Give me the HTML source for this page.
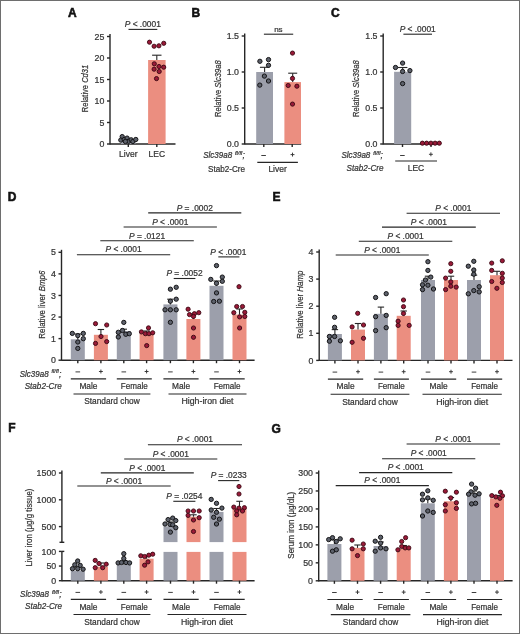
<!DOCTYPE html>
<html><head><meta charset="utf-8"><style>
html,body{margin:0;padding:0;background:#fff;}
svg{display:block;will-change:transform;font-family:"Liberation Sans", sans-serif;}
text{stroke:#333;stroke-width:0.22px;paint-order:stroke;}
</style></head><body>
<svg width="520" height="634" viewBox="0 0 520 634">
<rect width="520" height="634" fill="#fff"/>
<rect x="0.5" y="0.5" width="519" height="633" fill="none" stroke="#6e6e6e" stroke-width="1"/>
<text x="68.00" y="16.70" font-size="12" font-weight="bold" fill="#111" style="stroke:#111;stroke-width:0.55px">A</text>
<text x="191.40" y="16.70" font-size="12" font-weight="bold" fill="#111" style="stroke:#111;stroke-width:0.55px">B</text>
<text x="330.90" y="16.70" font-size="12" font-weight="bold" fill="#111" style="stroke:#111;stroke-width:0.55px">C</text>
<text x="7.70" y="201.20" font-size="12" font-weight="bold" fill="#111" style="stroke:#111;stroke-width:0.55px">D</text>
<text x="272.60" y="200.90" font-size="12" font-weight="bold" fill="#111" style="stroke:#111;stroke-width:0.55px">E</text>
<text x="8.30" y="432.10" font-size="12" font-weight="bold" fill="#111" style="stroke:#111;stroke-width:0.55px">F</text>
<text x="271.50" y="432.50" font-size="12" font-weight="bold" fill="#111" style="stroke:#111;stroke-width:0.55px">G</text>
<line x1="110.00" y1="34.00" x2="110.00" y2="144.60" stroke="#262626" stroke-width="1.4"/>
<line x1="107.00" y1="144.00" x2="110.00" y2="144.00" stroke="#262626" stroke-width="1.4"/>
<text x="104.30" y="147.10" font-size="8.8" text-anchor="end" fill="#333" style="">0</text>
<line x1="107.00" y1="122.50" x2="110.00" y2="122.50" stroke="#262626" stroke-width="1.4"/>
<text x="104.30" y="125.60" font-size="8.8" text-anchor="end" fill="#333" style="">5</text>
<line x1="107.00" y1="101.00" x2="110.00" y2="101.00" stroke="#262626" stroke-width="1.4"/>
<text x="104.30" y="104.10" font-size="8.8" text-anchor="end" fill="#333" style="">10</text>
<line x1="107.00" y1="79.50" x2="110.00" y2="79.50" stroke="#262626" stroke-width="1.4"/>
<text x="104.30" y="82.60" font-size="8.8" text-anchor="end" fill="#333" style="">15</text>
<line x1="107.00" y1="58.00" x2="110.00" y2="58.00" stroke="#262626" stroke-width="1.4"/>
<text x="104.30" y="61.10" font-size="8.8" text-anchor="end" fill="#333" style="">20</text>
<line x1="107.00" y1="36.50" x2="110.00" y2="36.50" stroke="#262626" stroke-width="1.4"/>
<text x="104.30" y="39.60" font-size="8.8" text-anchor="end" fill="#333" style="">25</text>
<line x1="110.00" y1="144.00" x2="175.50" y2="144.00" stroke="#262626" stroke-width="1.4"/>
<rect x="121.00" y="139.70" width="14.50" height="4.30" fill="#9c9fab"/>
<rect x="148.10" y="60.00" width="17.50" height="84.00" fill="#eb8e80"/>
<line x1="156.80" y1="60.00" x2="156.80" y2="55.20" stroke="#262626" stroke-width="1.1"/>
<line x1="152.10" y1="55.20" x2="161.50" y2="55.20" stroke="#262626" stroke-width="1.1"/>
<line x1="128.30" y1="144.00" x2="128.30" y2="147.00" stroke="#262626" stroke-width="1.4"/>
<line x1="156.80" y1="144.00" x2="156.80" y2="147.00" stroke="#262626" stroke-width="1.4"/>
<circle cx="122.20" cy="136.60" r="2.15" fill="#5d616b" stroke="#141416" stroke-width="1.0"/>
<circle cx="120.80" cy="140.10" r="2.15" fill="#5d616b" stroke="#141416" stroke-width="1.0"/>
<circle cx="124.20" cy="139.50" r="2.15" fill="#5d616b" stroke="#141416" stroke-width="1.0"/>
<circle cx="127.10" cy="138.10" r="2.15" fill="#5d616b" stroke="#141416" stroke-width="1.0"/>
<circle cx="128.60" cy="141.30" r="2.15" fill="#5d616b" stroke="#141416" stroke-width="1.0"/>
<circle cx="131.20" cy="139.80" r="2.15" fill="#5d616b" stroke="#141416" stroke-width="1.0"/>
<circle cx="132.90" cy="141.50" r="2.15" fill="#5d616b" stroke="#141416" stroke-width="1.0"/>
<circle cx="135.80" cy="139.50" r="2.15" fill="#5d616b" stroke="#141416" stroke-width="1.0"/>
<circle cx="125.40" cy="141.50" r="2.15" fill="#5d616b" stroke="#141416" stroke-width="1.0"/>
<circle cx="149.50" cy="42.20" r="2.1" fill="#9a1a38" stroke="#3a0712" stroke-width="0.9"/>
<circle cx="154.10" cy="46.25" r="2.1" fill="#9a1a38" stroke="#3a0712" stroke-width="0.9"/>
<circle cx="158.90" cy="45.80" r="2.1" fill="#9a1a38" stroke="#3a0712" stroke-width="0.9"/>
<circle cx="163.75" cy="43.30" r="2.1" fill="#9a1a38" stroke="#3a0712" stroke-width="0.9"/>
<circle cx="154.30" cy="63.80" r="2.1" fill="#9a1a38" stroke="#3a0712" stroke-width="0.9"/>
<circle cx="159.00" cy="66.50" r="2.1" fill="#9a1a38" stroke="#3a0712" stroke-width="0.9"/>
<circle cx="163.70" cy="67.20" r="2.1" fill="#9a1a38" stroke="#3a0712" stroke-width="0.9"/>
<circle cx="154.10" cy="69.20" r="2.1" fill="#9a1a38" stroke="#3a0712" stroke-width="0.9"/>
<circle cx="159.20" cy="71.50" r="2.1" fill="#9a1a38" stroke="#3a0712" stroke-width="0.9"/>
<circle cx="156.50" cy="78.60" r="2.1" fill="#9a1a38" stroke="#3a0712" stroke-width="0.9"/>
<text x="128.30" y="157.40" font-size="8.5" text-anchor="middle" fill="#333" style="">Liver</text>
<text x="156.80" y="157.40" font-size="8.5" text-anchor="middle" fill="#333" style="">LEC</text>
<line x1="128.50" y1="29.40" x2="157.30" y2="29.40" stroke="#262626" stroke-width="1.1"/>
<text x="142.80" y="27.10" font-size="8.4" text-anchor="middle" fill="#333"><tspan style="font-style:italic">P</tspan> &lt; .0001</text>
<text x="0" y="0" font-size="9.3" text-anchor="middle" fill="#333" transform="translate(85.40,88.50) rotate(-90)" dominant-baseline="central" textLength="47.5" lengthAdjust="spacingAndGlyphs"><tspan style="font-style:normal">Relative </tspan><tspan style="font-style:italic">Cd31</tspan></text>
<line x1="244.70" y1="33.50" x2="244.70" y2="144.60" stroke="#262626" stroke-width="1.4"/>
<line x1="241.70" y1="144.00" x2="244.70" y2="144.00" stroke="#262626" stroke-width="1.4"/>
<text x="239.00" y="147.10" font-size="8.8" text-anchor="end" fill="#333" style="">0.0</text>
<line x1="241.70" y1="108.00" x2="244.70" y2="108.00" stroke="#262626" stroke-width="1.4"/>
<text x="239.00" y="111.10" font-size="8.8" text-anchor="end" fill="#333" style="">0.5</text>
<line x1="241.70" y1="72.00" x2="244.70" y2="72.00" stroke="#262626" stroke-width="1.4"/>
<text x="239.00" y="75.10" font-size="8.8" text-anchor="end" fill="#333" style="">1.0</text>
<line x1="241.70" y1="36.00" x2="244.70" y2="36.00" stroke="#262626" stroke-width="1.4"/>
<text x="239.00" y="39.10" font-size="8.8" text-anchor="end" fill="#333" style="">1.5</text>
<line x1="244.70" y1="144.00" x2="301.20" y2="144.00" stroke="#262626" stroke-width="1.4"/>
<rect x="256.20" y="72.00" width="16.80" height="72.00" fill="#9c9fab"/>
<rect x="284.40" y="82.10" width="16.60" height="61.90" fill="#eb8e80"/>
<line x1="264.60" y1="72.00" x2="264.60" y2="67.30" stroke="#262626" stroke-width="1.1"/>
<line x1="259.90" y1="67.30" x2="269.30" y2="67.30" stroke="#262626" stroke-width="1.1"/>
<line x1="292.70" y1="82.10" x2="292.70" y2="73.20" stroke="#262626" stroke-width="1.1"/>
<line x1="288.20" y1="73.20" x2="297.20" y2="73.20" stroke="#262626" stroke-width="1.1"/>
<line x1="263.80" y1="144.00" x2="263.80" y2="147.00" stroke="#262626" stroke-width="1.4"/>
<line x1="292.20" y1="144.00" x2="292.20" y2="147.00" stroke="#262626" stroke-width="1.4"/>
<circle cx="259.90" cy="61.30" r="2.15" fill="#5d616b" stroke="#141416" stroke-width="1.0"/>
<circle cx="268.50" cy="59.60" r="2.15" fill="#5d616b" stroke="#141416" stroke-width="1.0"/>
<circle cx="268.50" cy="65.30" r="2.15" fill="#5d616b" stroke="#141416" stroke-width="1.0"/>
<circle cx="264.40" cy="76.10" r="2.15" fill="#5d616b" stroke="#141416" stroke-width="1.0"/>
<circle cx="268.50" cy="81.00" r="2.15" fill="#5d616b" stroke="#141416" stroke-width="1.0"/>
<circle cx="259.80" cy="85.10" r="2.15" fill="#5d616b" stroke="#141416" stroke-width="1.0"/>
<circle cx="292.50" cy="53.10" r="2.1" fill="#9a1a38" stroke="#3a0712" stroke-width="0.9"/>
<circle cx="292.50" cy="78.40" r="2.1" fill="#9a1a38" stroke="#3a0712" stroke-width="0.9"/>
<circle cx="288.20" cy="85.50" r="2.1" fill="#9a1a38" stroke="#3a0712" stroke-width="0.9"/>
<circle cx="296.90" cy="86.20" r="2.1" fill="#9a1a38" stroke="#3a0712" stroke-width="0.9"/>
<circle cx="292.50" cy="104.10" r="2.1" fill="#9a1a38" stroke="#3a0712" stroke-width="0.9"/>
<line x1="263.90" y1="34.20" x2="293.20" y2="34.20" stroke="#262626" stroke-width="1.1"/>
<text x="278.40" y="31.60" font-size="8" text-anchor="middle" fill="#333" style="">ns</text>
<text x="0" y="0" font-size="9.3" text-anchor="middle" fill="#333" transform="translate(217.60,88.70) rotate(-90)" dominant-baseline="central" textLength="56.7" lengthAdjust="spacingAndGlyphs"><tspan style="font-style:normal">Relative </tspan><tspan style="font-style:italic">Slc39a8</tspan></text>
<text x="203.20" y="158.10" font-size="8.7" text-anchor="start" fill="#333" style="font-style:italic;" textLength="28.9" lengthAdjust="spacingAndGlyphs">Slc39a8</text>
<text x="235.00" y="154.70" font-size="5.6" text-anchor="start" fill="#333" style="font-style:italic;" textLength="7.2" lengthAdjust="spacingAndGlyphs">fl/fl</text>
<text x="242.40" y="158.10" font-size="8.7" text-anchor="start" fill="#333" style="font-style:italic;">;</text>
<text x="245.00" y="172.40" font-size="8.7" text-anchor="end" fill="#333" style="" textLength="37" lengthAdjust="spacingAndGlyphs">Stab2-Cre</text>
<line x1="261.30" y1="155.50" x2="265.90" y2="155.50" stroke="#333" stroke-width="0.95"/>
<line x1="290.55" y1="154.60" x2="294.45" y2="154.60" stroke="#333" stroke-width="0.95"/>
<line x1="292.50" y1="152.65" x2="292.50" y2="156.55" stroke="#333" stroke-width="0.95"/>
<line x1="257.30" y1="162.40" x2="297.90" y2="162.40" stroke="#262626" stroke-width="1.1"/>
<text x="277.60" y="172.30" font-size="8.5" text-anchor="middle" fill="#333" style="">Liver</text>
<line x1="383.20" y1="33.50" x2="383.20" y2="144.60" stroke="#262626" stroke-width="1.4"/>
<line x1="380.20" y1="144.00" x2="383.20" y2="144.00" stroke="#262626" stroke-width="1.4"/>
<text x="377.50" y="147.10" font-size="8.8" text-anchor="end" fill="#333" style="">0.0</text>
<line x1="380.20" y1="108.00" x2="383.20" y2="108.00" stroke="#262626" stroke-width="1.4"/>
<text x="377.50" y="111.10" font-size="8.8" text-anchor="end" fill="#333" style="">0.5</text>
<line x1="380.20" y1="72.00" x2="383.20" y2="72.00" stroke="#262626" stroke-width="1.4"/>
<text x="377.50" y="75.10" font-size="8.8" text-anchor="end" fill="#333" style="">1.0</text>
<line x1="380.20" y1="36.00" x2="383.20" y2="36.00" stroke="#262626" stroke-width="1.4"/>
<text x="377.50" y="39.10" font-size="8.8" text-anchor="end" fill="#333" style="">1.5</text>
<line x1="383.20" y1="144.00" x2="440.40" y2="144.00" stroke="#262626" stroke-width="1.4"/>
<rect x="394.10" y="71.80" width="17.10" height="72.20" fill="#9c9fab"/>
<line x1="402.70" y1="71.80" x2="402.70" y2="67.50" stroke="#262626" stroke-width="1.1"/>
<line x1="398.00" y1="67.50" x2="407.40" y2="67.50" stroke="#262626" stroke-width="1.1"/>
<line x1="402.50" y1="144.00" x2="402.50" y2="147.00" stroke="#262626" stroke-width="1.4"/>
<line x1="431.00" y1="144.00" x2="431.00" y2="147.00" stroke="#262626" stroke-width="1.4"/>
<circle cx="395.50" cy="67.50" r="2.15" fill="#5d616b" stroke="#141416" stroke-width="1.0"/>
<circle cx="402.60" cy="63.10" r="2.15" fill="#5d616b" stroke="#141416" stroke-width="1.0"/>
<circle cx="402.60" cy="71.50" r="2.15" fill="#5d616b" stroke="#141416" stroke-width="1.0"/>
<circle cx="409.90" cy="70.60" r="2.15" fill="#5d616b" stroke="#141416" stroke-width="1.0"/>
<circle cx="402.60" cy="83.60" r="2.15" fill="#5d616b" stroke="#141416" stroke-width="1.0"/>
<circle cx="422.40" cy="143.20" r="2.1" fill="#9a1a38" stroke="#3a0712" stroke-width="0.9"/>
<circle cx="426.60" cy="143.20" r="2.1" fill="#9a1a38" stroke="#3a0712" stroke-width="0.9"/>
<circle cx="430.90" cy="143.20" r="2.1" fill="#9a1a38" stroke="#3a0712" stroke-width="0.9"/>
<circle cx="435.10" cy="143.20" r="2.1" fill="#9a1a38" stroke="#3a0712" stroke-width="0.9"/>
<circle cx="439.30" cy="143.20" r="2.1" fill="#9a1a38" stroke="#3a0712" stroke-width="0.9"/>
<line x1="403.40" y1="34.20" x2="432.00" y2="34.20" stroke="#262626" stroke-width="1.1"/>
<text x="417.70" y="31.90" font-size="8.4" text-anchor="middle" fill="#333"><tspan style="font-style:italic">P</tspan> &lt; .0001</text>
<text x="0" y="0" font-size="9.3" text-anchor="middle" fill="#333" transform="translate(355.80,88.70) rotate(-90)" dominant-baseline="central" textLength="56.7" lengthAdjust="spacingAndGlyphs"><tspan style="font-style:normal">Relative </tspan><tspan style="font-style:italic">Slc39a8</tspan></text>
<text x="341.40" y="158.10" font-size="8.7" text-anchor="start" fill="#333" style="font-style:italic;" textLength="28.9" lengthAdjust="spacingAndGlyphs">Slc39a8</text>
<text x="373.20" y="154.70" font-size="5.6" text-anchor="start" fill="#333" style="font-style:italic;" textLength="7.2" lengthAdjust="spacingAndGlyphs">fl/fl</text>
<text x="380.60" y="158.10" font-size="8.7" text-anchor="start" fill="#333" style="font-style:italic;">;</text>
<text x="383.60" y="170.80" font-size="8.7" text-anchor="end" fill="#333" style="font-style:italic;" textLength="37" lengthAdjust="spacingAndGlyphs">Stab2-Cre</text>
<line x1="400.10" y1="155.50" x2="404.70" y2="155.50" stroke="#333" stroke-width="0.95"/>
<line x1="428.95" y1="154.30" x2="432.85" y2="154.30" stroke="#333" stroke-width="0.95"/>
<line x1="430.90" y1="152.35" x2="430.90" y2="156.25" stroke="#333" stroke-width="0.95"/>
<line x1="395.20" y1="161.00" x2="437.00" y2="161.00" stroke="#262626" stroke-width="1.1"/>
<text x="416.00" y="170.80" font-size="8.5" text-anchor="middle" fill="#333" style="">LEC</text>
<line x1="61.50" y1="249.80" x2="61.50" y2="360.80" stroke="#262626" stroke-width="1.4"/>
<line x1="58.50" y1="360.20" x2="61.50" y2="360.20" stroke="#262626" stroke-width="1.4"/>
<text x="55.80" y="363.30" font-size="8.8" text-anchor="end" fill="#333" style="">0</text>
<line x1="58.50" y1="338.62" x2="61.50" y2="338.62" stroke="#262626" stroke-width="1.4"/>
<text x="55.80" y="341.72" font-size="8.8" text-anchor="end" fill="#333" style="">1</text>
<line x1="58.50" y1="317.04" x2="61.50" y2="317.04" stroke="#262626" stroke-width="1.4"/>
<text x="55.80" y="320.14" font-size="8.8" text-anchor="end" fill="#333" style="">2</text>
<line x1="58.50" y1="295.46" x2="61.50" y2="295.46" stroke="#262626" stroke-width="1.4"/>
<text x="55.80" y="298.56" font-size="8.8" text-anchor="end" fill="#333" style="">3</text>
<line x1="58.50" y1="273.88" x2="61.50" y2="273.88" stroke="#262626" stroke-width="1.4"/>
<text x="55.80" y="276.98" font-size="8.8" text-anchor="end" fill="#333" style="">4</text>
<line x1="58.50" y1="252.30" x2="61.50" y2="252.30" stroke="#262626" stroke-width="1.4"/>
<text x="55.80" y="255.40" font-size="8.8" text-anchor="end" fill="#333" style="">5</text>
<line x1="61.50" y1="360.20" x2="254.60" y2="360.20" stroke="#262626" stroke-width="1.4"/>
<rect x="70.80" y="339.30" width="14.00" height="20.90" fill="#9c9fab"/>
<rect x="93.90" y="334.80" width="14.00" height="25.40" fill="#eb8e80"/>
<rect x="116.80" y="331.00" width="14.00" height="29.20" fill="#9c9fab"/>
<rect x="139.60" y="334.00" width="14.00" height="26.20" fill="#eb8e80"/>
<rect x="163.40" y="304.40" width="14.00" height="55.80" fill="#9c9fab"/>
<rect x="186.40" y="319.00" width="14.00" height="41.20" fill="#eb8e80"/>
<rect x="209.50" y="285.80" width="14.00" height="74.40" fill="#9c9fab"/>
<rect x="232.50" y="314.60" width="14.00" height="45.60" fill="#eb8e80"/>
<line x1="77.80" y1="360.20" x2="77.80" y2="363.20" stroke="#262626" stroke-width="1.4"/>
<line x1="100.90" y1="360.20" x2="100.90" y2="363.20" stroke="#262626" stroke-width="1.4"/>
<line x1="123.80" y1="360.20" x2="123.80" y2="363.20" stroke="#262626" stroke-width="1.4"/>
<line x1="146.60" y1="360.20" x2="146.60" y2="363.20" stroke="#262626" stroke-width="1.4"/>
<line x1="170.40" y1="360.20" x2="170.40" y2="363.20" stroke="#262626" stroke-width="1.4"/>
<line x1="193.40" y1="360.20" x2="193.40" y2="363.20" stroke="#262626" stroke-width="1.4"/>
<line x1="216.50" y1="360.20" x2="216.50" y2="363.20" stroke="#262626" stroke-width="1.4"/>
<line x1="239.50" y1="360.20" x2="239.50" y2="363.20" stroke="#262626" stroke-width="1.4"/>
<line x1="77.80" y1="339.30" x2="77.80" y2="334.00" stroke="#262626" stroke-width="1.1"/>
<line x1="74.60" y1="334.00" x2="81.00" y2="334.00" stroke="#262626" stroke-width="1.1"/>
<line x1="100.90" y1="334.80" x2="100.90" y2="329.50" stroke="#262626" stroke-width="1.1"/>
<line x1="97.70" y1="329.50" x2="104.10" y2="329.50" stroke="#262626" stroke-width="1.1"/>
<line x1="123.80" y1="331.00" x2="123.80" y2="329.20" stroke="#262626" stroke-width="1.1"/>
<line x1="120.60" y1="329.20" x2="127.00" y2="329.20" stroke="#262626" stroke-width="1.1"/>
<line x1="146.60" y1="334.00" x2="146.60" y2="331.00" stroke="#262626" stroke-width="1.1"/>
<line x1="143.40" y1="331.00" x2="149.80" y2="331.00" stroke="#262626" stroke-width="1.1"/>
<line x1="170.40" y1="304.40" x2="170.40" y2="299.20" stroke="#262626" stroke-width="1.1"/>
<line x1="167.20" y1="299.20" x2="173.60" y2="299.20" stroke="#262626" stroke-width="1.1"/>
<line x1="193.40" y1="319.00" x2="193.40" y2="314.00" stroke="#262626" stroke-width="1.1"/>
<line x1="190.20" y1="314.00" x2="196.60" y2="314.00" stroke="#262626" stroke-width="1.1"/>
<line x1="216.50" y1="285.80" x2="216.50" y2="281.00" stroke="#262626" stroke-width="1.1"/>
<line x1="213.30" y1="281.00" x2="219.70" y2="281.00" stroke="#262626" stroke-width="1.1"/>
<line x1="239.50" y1="314.60" x2="239.50" y2="309.00" stroke="#262626" stroke-width="1.1"/>
<line x1="236.30" y1="309.00" x2="242.70" y2="309.00" stroke="#262626" stroke-width="1.1"/>
<circle cx="72.30" cy="333.40" r="2.15" fill="#5d616b" stroke="#141416" stroke-width="1.0"/>
<circle cx="77.80" cy="335.60" r="2.15" fill="#5d616b" stroke="#141416" stroke-width="1.0"/>
<circle cx="83.30" cy="333.40" r="2.15" fill="#5d616b" stroke="#141416" stroke-width="1.0"/>
<circle cx="83.30" cy="338.70" r="2.15" fill="#5d616b" stroke="#141416" stroke-width="1.0"/>
<circle cx="77.80" cy="342.00" r="2.15" fill="#5d616b" stroke="#141416" stroke-width="1.0"/>
<circle cx="77.80" cy="348.40" r="2.15" fill="#5d616b" stroke="#141416" stroke-width="1.0"/>
<circle cx="95.50" cy="323.70" r="2.1" fill="#9a1a38" stroke="#3a0712" stroke-width="0.9"/>
<circle cx="106.70" cy="325.00" r="2.1" fill="#9a1a38" stroke="#3a0712" stroke-width="0.9"/>
<circle cx="101.00" cy="336.50" r="2.1" fill="#9a1a38" stroke="#3a0712" stroke-width="0.9"/>
<circle cx="95.50" cy="343.40" r="2.1" fill="#9a1a38" stroke="#3a0712" stroke-width="0.9"/>
<circle cx="106.70" cy="341.60" r="2.1" fill="#9a1a38" stroke="#3a0712" stroke-width="0.9"/>
<circle cx="123.80" cy="322.40" r="2.15" fill="#5d616b" stroke="#141416" stroke-width="1.0"/>
<circle cx="118.30" cy="332.30" r="2.15" fill="#5d616b" stroke="#141416" stroke-width="1.0"/>
<circle cx="122.50" cy="330.50" r="2.15" fill="#5d616b" stroke="#141416" stroke-width="1.0"/>
<circle cx="125.80" cy="334.30" r="2.15" fill="#5d616b" stroke="#141416" stroke-width="1.0"/>
<circle cx="129.30" cy="333.70" r="2.15" fill="#5d616b" stroke="#141416" stroke-width="1.0"/>
<circle cx="118.30" cy="337.00" r="2.15" fill="#5d616b" stroke="#141416" stroke-width="1.0"/>
<circle cx="148.50" cy="327.90" r="2.1" fill="#9a1a38" stroke="#3a0712" stroke-width="0.9"/>
<circle cx="141.40" cy="331.90" r="2.1" fill="#9a1a38" stroke="#3a0712" stroke-width="0.9"/>
<circle cx="145.40" cy="333.70" r="2.1" fill="#9a1a38" stroke="#3a0712" stroke-width="0.9"/>
<circle cx="149.00" cy="333.70" r="2.1" fill="#9a1a38" stroke="#3a0712" stroke-width="0.9"/>
<circle cx="152.70" cy="332.80" r="2.1" fill="#9a1a38" stroke="#3a0712" stroke-width="0.9"/>
<circle cx="146.70" cy="345.60" r="2.1" fill="#9a1a38" stroke="#3a0712" stroke-width="0.9"/>
<circle cx="170.40" cy="289.20" r="2.15" fill="#5d616b" stroke="#141416" stroke-width="1.0"/>
<circle cx="176.20" cy="287.30" r="2.15" fill="#5d616b" stroke="#141416" stroke-width="1.0"/>
<circle cx="176.20" cy="299.20" r="2.15" fill="#5d616b" stroke="#141416" stroke-width="1.0"/>
<circle cx="170.40" cy="301.20" r="2.15" fill="#5d616b" stroke="#141416" stroke-width="1.0"/>
<circle cx="165.00" cy="309.80" r="2.15" fill="#5d616b" stroke="#141416" stroke-width="1.0"/>
<circle cx="170.40" cy="309.80" r="2.15" fill="#5d616b" stroke="#141416" stroke-width="1.0"/>
<circle cx="176.20" cy="309.80" r="2.15" fill="#5d616b" stroke="#141416" stroke-width="1.0"/>
<circle cx="170.40" cy="322.30" r="2.15" fill="#5d616b" stroke="#141416" stroke-width="1.0"/>
<circle cx="188.10" cy="309.20" r="2.1" fill="#9a1a38" stroke="#3a0712" stroke-width="0.9"/>
<circle cx="189.50" cy="314.60" r="2.1" fill="#9a1a38" stroke="#3a0712" stroke-width="0.9"/>
<circle cx="194.40" cy="313.70" r="2.1" fill="#9a1a38" stroke="#3a0712" stroke-width="0.9"/>
<circle cx="198.80" cy="312.70" r="2.1" fill="#9a1a38" stroke="#3a0712" stroke-width="0.9"/>
<circle cx="193.50" cy="328.00" r="2.1" fill="#9a1a38" stroke="#3a0712" stroke-width="0.9"/>
<circle cx="193.50" cy="337.30" r="2.1" fill="#9a1a38" stroke="#3a0712" stroke-width="0.9"/>
<circle cx="193.50" cy="316.50" r="2.1" fill="#9a1a38" stroke="#3a0712" stroke-width="0.9"/>
<circle cx="216.50" cy="265.60" r="2.15" fill="#5d616b" stroke="#141416" stroke-width="1.0"/>
<circle cx="210.80" cy="279.40" r="2.15" fill="#5d616b" stroke="#141416" stroke-width="1.0"/>
<circle cx="216.50" cy="283.30" r="2.15" fill="#5d616b" stroke="#141416" stroke-width="1.0"/>
<circle cx="222.30" cy="277.10" r="2.15" fill="#5d616b" stroke="#141416" stroke-width="1.0"/>
<circle cx="222.30" cy="281.30" r="2.15" fill="#5d616b" stroke="#141416" stroke-width="1.0"/>
<circle cx="216.50" cy="292.90" r="2.15" fill="#5d616b" stroke="#141416" stroke-width="1.0"/>
<circle cx="213.70" cy="301.50" r="2.15" fill="#5d616b" stroke="#141416" stroke-width="1.0"/>
<circle cx="219.40" cy="301.20" r="2.15" fill="#5d616b" stroke="#141416" stroke-width="1.0"/>
<circle cx="239.00" cy="286.70" r="2.1" fill="#9a1a38" stroke="#3a0712" stroke-width="0.9"/>
<circle cx="236.70" cy="306.50" r="2.1" fill="#9a1a38" stroke="#3a0712" stroke-width="0.9"/>
<circle cx="242.50" cy="306.50" r="2.1" fill="#9a1a38" stroke="#3a0712" stroke-width="0.9"/>
<circle cx="233.80" cy="312.70" r="2.1" fill="#9a1a38" stroke="#3a0712" stroke-width="0.9"/>
<circle cx="244.80" cy="312.30" r="2.1" fill="#9a1a38" stroke="#3a0712" stroke-width="0.9"/>
<circle cx="239.60" cy="316.90" r="2.1" fill="#9a1a38" stroke="#3a0712" stroke-width="0.9"/>
<circle cx="244.80" cy="316.50" r="2.1" fill="#9a1a38" stroke="#3a0712" stroke-width="0.9"/>
<circle cx="239.60" cy="328.00" r="2.1" fill="#9a1a38" stroke="#3a0712" stroke-width="0.9"/>
<line x1="75.50" y1="371.90" x2="80.10" y2="371.90" stroke="#333" stroke-width="0.95"/>
<line x1="98.95" y1="371.50" x2="102.85" y2="371.50" stroke="#333" stroke-width="0.95"/>
<line x1="100.90" y1="369.55" x2="100.90" y2="373.45" stroke="#333" stroke-width="0.95"/>
<line x1="121.50" y1="371.90" x2="126.10" y2="371.90" stroke="#333" stroke-width="0.95"/>
<line x1="144.65" y1="371.50" x2="148.55" y2="371.50" stroke="#333" stroke-width="0.95"/>
<line x1="146.60" y1="369.55" x2="146.60" y2="373.45" stroke="#333" stroke-width="0.95"/>
<line x1="168.10" y1="371.90" x2="172.70" y2="371.90" stroke="#333" stroke-width="0.95"/>
<line x1="191.45" y1="371.50" x2="195.35" y2="371.50" stroke="#333" stroke-width="0.95"/>
<line x1="193.40" y1="369.55" x2="193.40" y2="373.45" stroke="#333" stroke-width="0.95"/>
<line x1="214.20" y1="371.90" x2="218.80" y2="371.90" stroke="#333" stroke-width="0.95"/>
<line x1="237.55" y1="371.50" x2="241.45" y2="371.50" stroke="#333" stroke-width="0.95"/>
<line x1="239.50" y1="369.55" x2="239.50" y2="373.45" stroke="#333" stroke-width="0.95"/>
<line x1="70.80" y1="378.90" x2="106.10" y2="378.90" stroke="#262626" stroke-width="1.1"/>
<text x="88.45" y="389.20" font-size="8.7" text-anchor="middle" fill="#333" style="" textLength="18.1" lengthAdjust="spacingAndGlyphs">Male</text>
<line x1="116.80" y1="378.90" x2="151.80" y2="378.90" stroke="#262626" stroke-width="1.1"/>
<text x="134.30" y="389.20" font-size="8.7" text-anchor="middle" fill="#333" style="" textLength="26.9" lengthAdjust="spacingAndGlyphs">Female</text>
<line x1="163.40" y1="378.90" x2="198.60" y2="378.90" stroke="#262626" stroke-width="1.1"/>
<text x="181.00" y="389.20" font-size="8.7" text-anchor="middle" fill="#333" style="" textLength="18.1" lengthAdjust="spacingAndGlyphs">Male</text>
<line x1="209.50" y1="378.90" x2="244.70" y2="378.90" stroke="#262626" stroke-width="1.1"/>
<text x="227.10" y="389.20" font-size="8.7" text-anchor="middle" fill="#333" style="" textLength="26.9" lengthAdjust="spacingAndGlyphs">Female</text>
<line x1="73.50" y1="394.00" x2="150.40" y2="394.00" stroke="#262626" stroke-width="1.1"/>
<line x1="168.50" y1="394.00" x2="246.50" y2="394.00" stroke="#262626" stroke-width="1.1"/>
<text x="111.95" y="404.40" font-size="8.7" text-anchor="middle" fill="#333" style="" textLength="55.5" lengthAdjust="spacingAndGlyphs">Standard chow</text>
<text x="207.50" y="404.40" font-size="8.7" text-anchor="middle" fill="#333" style="" textLength="52" lengthAdjust="spacingAndGlyphs">High-iron diet</text>
<text x="19.70" y="376.60" font-size="8.7" text-anchor="start" fill="#333" style="font-style:italic;" textLength="28.9" lengthAdjust="spacingAndGlyphs">Slc39a8</text>
<text x="51.50" y="373.20" font-size="5.6" text-anchor="start" fill="#333" style="font-style:italic;" textLength="7.2" lengthAdjust="spacingAndGlyphs">fl/fl</text>
<text x="58.90" y="376.60" font-size="8.7" text-anchor="start" fill="#333" style="font-style:italic;">;</text>
<text x="61.70" y="388.80" font-size="8.7" text-anchor="end" fill="#333" style="font-style:italic;" textLength="37" lengthAdjust="spacingAndGlyphs">Stab2-Cre</text>
<line x1="76.90" y1="254.70" x2="170.20" y2="254.70" stroke="#262626" stroke-width="1.1"/>
<text x="123.55" y="252.40" font-size="8.4" text-anchor="middle" fill="#333"><tspan style="font-style:italic">P</tspan> &lt; .0001</text>
<line x1="100.30" y1="240.80" x2="193.80" y2="240.80" stroke="#262626" stroke-width="1.1"/>
<text x="147.05" y="238.50" font-size="8.4" text-anchor="middle" fill="#333"><tspan style="font-style:italic">P</tspan> = .0121</text>
<line x1="123.60" y1="227.00" x2="216.90" y2="227.00" stroke="#262626" stroke-width="1.1"/>
<text x="170.25" y="224.70" font-size="8.4" text-anchor="middle" fill="#333"><tspan style="font-style:italic">P</tspan> &lt; .0001</text>
<line x1="148.20" y1="212.90" x2="241.30" y2="212.90" stroke="#262626" stroke-width="1.1"/>
<text x="194.75" y="210.60" font-size="8.4" text-anchor="middle" fill="#333"><tspan style="font-style:italic">P</tspan> = .0002</text>
<line x1="173.70" y1="278.50" x2="195.40" y2="278.50" stroke="#262626" stroke-width="1.1"/>
<text x="184.50" y="276.20" font-size="8.4" text-anchor="middle" fill="#333"><tspan style="font-style:italic">P</tspan> = .0052</text>
<line x1="218.30" y1="256.90" x2="239.40" y2="256.90" stroke="#262626" stroke-width="1.1"/>
<text x="228.40" y="254.60" font-size="8.4" text-anchor="middle" fill="#333"><tspan style="font-style:italic">P</tspan> &lt; .0001</text>
<text x="0" y="0" font-size="9.3" text-anchor="middle" fill="#333" transform="translate(42.30,304.70) rotate(-90)" dominant-baseline="central" textLength="68" lengthAdjust="spacingAndGlyphs"><tspan style="font-style:normal">Relative liver </tspan><tspan style="font-style:italic">Bmp6</tspan></text>
<line x1="319.20" y1="249.50" x2="319.20" y2="361.00" stroke="#262626" stroke-width="1.4"/>
<line x1="316.20" y1="360.40" x2="319.20" y2="360.40" stroke="#262626" stroke-width="1.4"/>
<text x="313.50" y="363.50" font-size="8.8" text-anchor="end" fill="#333" style="">0</text>
<line x1="316.20" y1="333.30" x2="319.20" y2="333.30" stroke="#262626" stroke-width="1.4"/>
<text x="313.50" y="336.40" font-size="8.8" text-anchor="end" fill="#333" style="">1</text>
<line x1="316.20" y1="306.20" x2="319.20" y2="306.20" stroke="#262626" stroke-width="1.4"/>
<text x="313.50" y="309.30" font-size="8.8" text-anchor="end" fill="#333" style="">2</text>
<line x1="316.20" y1="279.10" x2="319.20" y2="279.10" stroke="#262626" stroke-width="1.4"/>
<text x="313.50" y="282.20" font-size="8.8" text-anchor="end" fill="#333" style="">3</text>
<line x1="316.20" y1="252.00" x2="319.20" y2="252.00" stroke="#262626" stroke-width="1.4"/>
<text x="313.50" y="255.10" font-size="8.8" text-anchor="end" fill="#333" style="">4</text>
<line x1="319.20" y1="360.40" x2="512.50" y2="360.40" stroke="#262626" stroke-width="1.4"/>
<rect x="327.90" y="334.00" width="14.00" height="26.40" fill="#9c9fab"/>
<rect x="351.00" y="329.60" width="14.00" height="30.80" fill="#eb8e80"/>
<rect x="373.90" y="313.80" width="14.00" height="46.60" fill="#9c9fab"/>
<rect x="396.70" y="315.80" width="14.00" height="44.60" fill="#eb8e80"/>
<rect x="421.00" y="280.00" width="14.00" height="80.40" fill="#9c9fab"/>
<rect x="444.00" y="280.00" width="14.00" height="80.40" fill="#eb8e80"/>
<rect x="467.00" y="280.00" width="14.00" height="80.40" fill="#9c9fab"/>
<rect x="490.00" y="275.20" width="14.00" height="85.20" fill="#eb8e80"/>
<line x1="334.90" y1="360.40" x2="334.90" y2="363.40" stroke="#262626" stroke-width="1.4"/>
<line x1="358.00" y1="360.40" x2="358.00" y2="363.40" stroke="#262626" stroke-width="1.4"/>
<line x1="380.90" y1="360.40" x2="380.90" y2="363.40" stroke="#262626" stroke-width="1.4"/>
<line x1="403.70" y1="360.40" x2="403.70" y2="363.40" stroke="#262626" stroke-width="1.4"/>
<line x1="428.00" y1="360.40" x2="428.00" y2="363.40" stroke="#262626" stroke-width="1.4"/>
<line x1="451.00" y1="360.40" x2="451.00" y2="363.40" stroke="#262626" stroke-width="1.4"/>
<line x1="474.00" y1="360.40" x2="474.00" y2="363.40" stroke="#262626" stroke-width="1.4"/>
<line x1="497.00" y1="360.40" x2="497.00" y2="363.40" stroke="#262626" stroke-width="1.4"/>
<line x1="334.90" y1="334.00" x2="334.90" y2="329.60" stroke="#262626" stroke-width="1.1"/>
<line x1="331.70" y1="329.60" x2="338.10" y2="329.60" stroke="#262626" stroke-width="1.1"/>
<line x1="358.00" y1="329.60" x2="358.00" y2="323.50" stroke="#262626" stroke-width="1.1"/>
<line x1="354.80" y1="323.50" x2="361.20" y2="323.50" stroke="#262626" stroke-width="1.1"/>
<line x1="380.90" y1="313.80" x2="380.90" y2="307.10" stroke="#262626" stroke-width="1.1"/>
<line x1="377.70" y1="307.10" x2="384.10" y2="307.10" stroke="#262626" stroke-width="1.1"/>
<line x1="403.70" y1="315.80" x2="403.70" y2="311.00" stroke="#262626" stroke-width="1.1"/>
<line x1="400.50" y1="311.00" x2="406.90" y2="311.00" stroke="#262626" stroke-width="1.1"/>
<line x1="428.00" y1="280.00" x2="428.00" y2="276.20" stroke="#262626" stroke-width="1.1"/>
<line x1="424.80" y1="276.20" x2="431.20" y2="276.20" stroke="#262626" stroke-width="1.1"/>
<line x1="451.00" y1="280.00" x2="451.00" y2="276.20" stroke="#262626" stroke-width="1.1"/>
<line x1="447.80" y1="276.20" x2="454.20" y2="276.20" stroke="#262626" stroke-width="1.1"/>
<line x1="474.00" y1="280.00" x2="474.00" y2="275.20" stroke="#262626" stroke-width="1.1"/>
<line x1="470.80" y1="275.20" x2="477.20" y2="275.20" stroke="#262626" stroke-width="1.1"/>
<line x1="497.00" y1="275.20" x2="497.00" y2="271.30" stroke="#262626" stroke-width="1.1"/>
<line x1="493.80" y1="271.30" x2="500.20" y2="271.30" stroke="#262626" stroke-width="1.1"/>
<circle cx="334.60" cy="317.30" r="2.15" fill="#5d616b" stroke="#141416" stroke-width="1.0"/>
<circle cx="334.60" cy="327.30" r="2.15" fill="#5d616b" stroke="#141416" stroke-width="1.0"/>
<circle cx="329.40" cy="336.50" r="2.15" fill="#5d616b" stroke="#141416" stroke-width="1.0"/>
<circle cx="334.60" cy="336.50" r="2.15" fill="#5d616b" stroke="#141416" stroke-width="1.0"/>
<circle cx="329.40" cy="341.20" r="2.15" fill="#5d616b" stroke="#141416" stroke-width="1.0"/>
<circle cx="340.40" cy="340.80" r="2.15" fill="#5d616b" stroke="#141416" stroke-width="1.0"/>
<circle cx="357.70" cy="313.30" r="2.1" fill="#9a1a38" stroke="#3a0712" stroke-width="0.9"/>
<circle cx="352.10" cy="326.90" r="2.1" fill="#9a1a38" stroke="#3a0712" stroke-width="0.9"/>
<circle cx="363.50" cy="325.00" r="2.1" fill="#9a1a38" stroke="#3a0712" stroke-width="0.9"/>
<circle cx="352.10" cy="342.30" r="2.1" fill="#9a1a38" stroke="#3a0712" stroke-width="0.9"/>
<circle cx="363.50" cy="338.30" r="2.1" fill="#9a1a38" stroke="#3a0712" stroke-width="0.9"/>
<circle cx="375.60" cy="297.50" r="2.15" fill="#5d616b" stroke="#141416" stroke-width="1.0"/>
<circle cx="386.20" cy="293.70" r="2.15" fill="#5d616b" stroke="#141416" stroke-width="1.0"/>
<circle cx="375.60" cy="316.70" r="2.15" fill="#5d616b" stroke="#141416" stroke-width="1.0"/>
<circle cx="386.20" cy="315.40" r="2.15" fill="#5d616b" stroke="#141416" stroke-width="1.0"/>
<circle cx="375.60" cy="330.60" r="2.15" fill="#5d616b" stroke="#141416" stroke-width="1.0"/>
<circle cx="386.20" cy="327.70" r="2.15" fill="#5d616b" stroke="#141416" stroke-width="1.0"/>
<circle cx="403.50" cy="300.00" r="2.1" fill="#9a1a38" stroke="#3a0712" stroke-width="0.9"/>
<circle cx="403.50" cy="306.70" r="2.1" fill="#9a1a38" stroke="#3a0712" stroke-width="0.9"/>
<circle cx="403.50" cy="313.50" r="2.1" fill="#9a1a38" stroke="#3a0712" stroke-width="0.9"/>
<circle cx="398.10" cy="321.20" r="2.1" fill="#9a1a38" stroke="#3a0712" stroke-width="0.9"/>
<circle cx="398.10" cy="325.40" r="2.1" fill="#9a1a38" stroke="#3a0712" stroke-width="0.9"/>
<circle cx="409.20" cy="325.40" r="2.1" fill="#9a1a38" stroke="#3a0712" stroke-width="0.9"/>
<circle cx="427.90" cy="261.70" r="2.15" fill="#5d616b" stroke="#141416" stroke-width="1.0"/>
<circle cx="427.90" cy="270.40" r="2.15" fill="#5d616b" stroke="#141416" stroke-width="1.0"/>
<circle cx="430.80" cy="277.10" r="2.15" fill="#5d616b" stroke="#141416" stroke-width="1.0"/>
<circle cx="425.40" cy="280.00" r="2.15" fill="#5d616b" stroke="#141416" stroke-width="1.0"/>
<circle cx="422.50" cy="284.80" r="2.15" fill="#5d616b" stroke="#141416" stroke-width="1.0"/>
<circle cx="427.90" cy="285.20" r="2.15" fill="#5d616b" stroke="#141416" stroke-width="1.0"/>
<circle cx="422.50" cy="289.60" r="2.15" fill="#5d616b" stroke="#141416" stroke-width="1.0"/>
<circle cx="433.50" cy="289.00" r="2.15" fill="#5d616b" stroke="#141416" stroke-width="1.0"/>
<circle cx="450.80" cy="263.70" r="2.1" fill="#9a1a38" stroke="#3a0712" stroke-width="0.9"/>
<circle cx="450.80" cy="271.30" r="2.1" fill="#9a1a38" stroke="#3a0712" stroke-width="0.9"/>
<circle cx="445.60" cy="278.10" r="2.1" fill="#9a1a38" stroke="#3a0712" stroke-width="0.9"/>
<circle cx="450.80" cy="281.90" r="2.1" fill="#9a1a38" stroke="#3a0712" stroke-width="0.9"/>
<circle cx="450.80" cy="286.20" r="2.1" fill="#9a1a38" stroke="#3a0712" stroke-width="0.9"/>
<circle cx="456.20" cy="287.10" r="2.1" fill="#9a1a38" stroke="#3a0712" stroke-width="0.9"/>
<circle cx="445.60" cy="289.60" r="2.1" fill="#9a1a38" stroke="#3a0712" stroke-width="0.9"/>
<circle cx="473.80" cy="261.30" r="2.15" fill="#5d616b" stroke="#141416" stroke-width="1.0"/>
<circle cx="468.30" cy="266.20" r="2.15" fill="#5d616b" stroke="#141416" stroke-width="1.0"/>
<circle cx="473.80" cy="270.00" r="2.15" fill="#5d616b" stroke="#141416" stroke-width="1.0"/>
<circle cx="473.80" cy="274.20" r="2.15" fill="#5d616b" stroke="#141416" stroke-width="1.0"/>
<circle cx="479.20" cy="286.70" r="2.15" fill="#5d616b" stroke="#141416" stroke-width="1.0"/>
<circle cx="473.80" cy="290.60" r="2.15" fill="#5d616b" stroke="#141416" stroke-width="1.0"/>
<circle cx="479.20" cy="291.90" r="2.15" fill="#5d616b" stroke="#141416" stroke-width="1.0"/>
<circle cx="468.30" cy="293.80" r="2.15" fill="#5d616b" stroke="#141416" stroke-width="1.0"/>
<circle cx="491.70" cy="263.10" r="2.1" fill="#9a1a38" stroke="#3a0712" stroke-width="0.9"/>
<circle cx="502.30" cy="260.80" r="2.1" fill="#9a1a38" stroke="#3a0712" stroke-width="0.9"/>
<circle cx="491.70" cy="270.40" r="2.1" fill="#9a1a38" stroke="#3a0712" stroke-width="0.9"/>
<circle cx="502.30" cy="273.30" r="2.1" fill="#9a1a38" stroke="#3a0712" stroke-width="0.9"/>
<circle cx="502.30" cy="278.10" r="2.1" fill="#9a1a38" stroke="#3a0712" stroke-width="0.9"/>
<circle cx="491.70" cy="281.50" r="2.1" fill="#9a1a38" stroke="#3a0712" stroke-width="0.9"/>
<circle cx="502.30" cy="282.50" r="2.1" fill="#9a1a38" stroke="#3a0712" stroke-width="0.9"/>
<circle cx="496.90" cy="288.30" r="2.1" fill="#9a1a38" stroke="#3a0712" stroke-width="0.9"/>
<line x1="332.60" y1="372.10" x2="337.20" y2="372.10" stroke="#333" stroke-width="0.95"/>
<line x1="356.05" y1="371.70" x2="359.95" y2="371.70" stroke="#333" stroke-width="0.95"/>
<line x1="358.00" y1="369.75" x2="358.00" y2="373.65" stroke="#333" stroke-width="0.95"/>
<line x1="378.60" y1="372.10" x2="383.20" y2="372.10" stroke="#333" stroke-width="0.95"/>
<line x1="401.75" y1="371.70" x2="405.65" y2="371.70" stroke="#333" stroke-width="0.95"/>
<line x1="403.70" y1="369.75" x2="403.70" y2="373.65" stroke="#333" stroke-width="0.95"/>
<line x1="425.70" y1="372.10" x2="430.30" y2="372.10" stroke="#333" stroke-width="0.95"/>
<line x1="449.05" y1="371.70" x2="452.95" y2="371.70" stroke="#333" stroke-width="0.95"/>
<line x1="451.00" y1="369.75" x2="451.00" y2="373.65" stroke="#333" stroke-width="0.95"/>
<line x1="471.70" y1="372.10" x2="476.30" y2="372.10" stroke="#333" stroke-width="0.95"/>
<line x1="495.05" y1="371.70" x2="498.95" y2="371.70" stroke="#333" stroke-width="0.95"/>
<line x1="497.00" y1="369.75" x2="497.00" y2="373.65" stroke="#333" stroke-width="0.95"/>
<line x1="327.90" y1="379.10" x2="363.20" y2="379.10" stroke="#262626" stroke-width="1.1"/>
<text x="345.55" y="389.40" font-size="8.7" text-anchor="middle" fill="#333" style="" textLength="18.1" lengthAdjust="spacingAndGlyphs">Male</text>
<line x1="373.90" y1="379.10" x2="408.90" y2="379.10" stroke="#262626" stroke-width="1.1"/>
<text x="391.40" y="389.40" font-size="8.7" text-anchor="middle" fill="#333" style="" textLength="26.9" lengthAdjust="spacingAndGlyphs">Female</text>
<line x1="421.00" y1="379.10" x2="456.20" y2="379.10" stroke="#262626" stroke-width="1.1"/>
<text x="438.60" y="389.40" font-size="8.7" text-anchor="middle" fill="#333" style="" textLength="18.1" lengthAdjust="spacingAndGlyphs">Male</text>
<line x1="467.00" y1="379.10" x2="502.20" y2="379.10" stroke="#262626" stroke-width="1.1"/>
<text x="484.60" y="389.40" font-size="8.7" text-anchor="middle" fill="#333" style="" textLength="26.9" lengthAdjust="spacingAndGlyphs">Female</text>
<line x1="330.60" y1="394.20" x2="409.40" y2="394.20" stroke="#262626" stroke-width="1.1"/>
<line x1="422.50" y1="394.20" x2="501.80" y2="394.20" stroke="#262626" stroke-width="1.1"/>
<text x="370.00" y="404.60" font-size="8.7" text-anchor="middle" fill="#333" style="" textLength="55.5" lengthAdjust="spacingAndGlyphs">Standard chow</text>
<text x="462.15" y="404.60" font-size="8.7" text-anchor="middle" fill="#333" style="" textLength="52" lengthAdjust="spacingAndGlyphs">High-iron diet</text>
<line x1="335.70" y1="255.00" x2="428.80" y2="255.00" stroke="#262626" stroke-width="1.1"/>
<text x="382.25" y="252.70" font-size="8.4" text-anchor="middle" fill="#333"><tspan style="font-style:italic">P</tspan> &lt; .0001</text>
<line x1="358.80" y1="241.20" x2="452.30" y2="241.20" stroke="#262626" stroke-width="1.1"/>
<text x="405.55" y="238.90" font-size="8.4" text-anchor="middle" fill="#333"><tspan style="font-style:italic">P</tspan> &lt; .0001</text>
<line x1="382.00" y1="227.10" x2="475.80" y2="227.10" stroke="#262626" stroke-width="1.1"/>
<text x="428.90" y="224.80" font-size="8.4" text-anchor="middle" fill="#333"><tspan style="font-style:italic">P</tspan> &lt; .0001</text>
<line x1="406.60" y1="213.30" x2="500.00" y2="213.30" stroke="#262626" stroke-width="1.1"/>
<text x="453.30" y="211.00" font-size="8.4" text-anchor="middle" fill="#333"><tspan style="font-style:italic">P</tspan> &lt; .0001</text>
<text x="0" y="0" font-size="9.3" text-anchor="middle" fill="#333" transform="translate(299.90,304.70) rotate(-90)" dominant-baseline="central" textLength="68" lengthAdjust="spacingAndGlyphs"><tspan style="font-style:normal">Relative liver </tspan><tspan style="font-style:italic">Hamp</tspan></text>
<line x1="61.90" y1="470.50" x2="61.90" y2="542.30" stroke="#262626" stroke-width="1.4"/>
<line x1="59.50" y1="542.30" x2="64.30" y2="542.30" stroke="#262626" stroke-width="1.4"/>
<line x1="58.90" y1="526.60" x2="61.90" y2="526.60" stroke="#262626" stroke-width="1.4"/>
<text x="56.20" y="529.70" font-size="8.8" text-anchor="end" fill="#333" style="">500</text>
<line x1="58.90" y1="499.80" x2="61.90" y2="499.80" stroke="#262626" stroke-width="1.4"/>
<text x="56.20" y="502.90" font-size="8.8" text-anchor="end" fill="#333" style="">1000</text>
<line x1="58.90" y1="473.00" x2="61.90" y2="473.00" stroke="#262626" stroke-width="1.4"/>
<text x="56.20" y="476.10" font-size="8.8" text-anchor="end" fill="#333" style="">1500</text>
<line x1="61.90" y1="551.40" x2="61.90" y2="581.30" stroke="#262626" stroke-width="1.4"/>
<line x1="61.90" y1="551.40" x2="64.30" y2="551.40" stroke="#262626" stroke-width="1.4"/>
<line x1="58.90" y1="580.70" x2="61.90" y2="580.70" stroke="#262626" stroke-width="1.4"/>
<text x="56.20" y="583.80" font-size="8.8" text-anchor="end" fill="#333" style="">0</text>
<line x1="58.90" y1="566.05" x2="61.90" y2="566.05" stroke="#262626" stroke-width="1.4"/>
<text x="56.20" y="569.15" font-size="8.8" text-anchor="end" fill="#333" style="">50</text>
<line x1="58.90" y1="551.40" x2="61.90" y2="551.40" stroke="#262626" stroke-width="1.4"/>
<text x="56.20" y="554.50" font-size="8.8" text-anchor="end" fill="#333" style="">100</text>
<line x1="61.90" y1="580.70" x2="254.60" y2="580.70" stroke="#262626" stroke-width="1.4"/>
<rect x="70.80" y="570.60" width="14.00" height="10.10" fill="#9c9fab"/>
<rect x="93.90" y="566.70" width="14.00" height="14.00" fill="#eb8e80"/>
<rect x="116.80" y="564.80" width="14.00" height="15.90" fill="#9c9fab"/>
<rect x="139.60" y="558.70" width="14.00" height="22.00" fill="#eb8e80"/>
<rect x="163.50" y="526.30" width="14.00" height="15.80" fill="#9c9fab"/>
<rect x="163.50" y="551.90" width="14.00" height="28.80" fill="#9c9fab"/>
<rect x="186.50" y="516.70" width="14.00" height="25.40" fill="#eb8e80"/>
<rect x="186.50" y="551.90" width="14.00" height="28.80" fill="#eb8e80"/>
<rect x="209.50" y="511.90" width="14.00" height="30.20" fill="#9c9fab"/>
<rect x="209.50" y="551.90" width="14.00" height="28.80" fill="#9c9fab"/>
<rect x="232.50" y="508.10" width="14.00" height="34.00" fill="#eb8e80"/>
<rect x="232.50" y="551.90" width="14.00" height="28.80" fill="#eb8e80"/>
<line x1="77.80" y1="580.70" x2="77.80" y2="583.70" stroke="#262626" stroke-width="1.4"/>
<line x1="100.90" y1="580.70" x2="100.90" y2="583.70" stroke="#262626" stroke-width="1.4"/>
<line x1="123.80" y1="580.70" x2="123.80" y2="583.70" stroke="#262626" stroke-width="1.4"/>
<line x1="146.60" y1="580.70" x2="146.60" y2="583.70" stroke="#262626" stroke-width="1.4"/>
<line x1="170.50" y1="580.70" x2="170.50" y2="583.70" stroke="#262626" stroke-width="1.4"/>
<line x1="193.50" y1="580.70" x2="193.50" y2="583.70" stroke="#262626" stroke-width="1.4"/>
<line x1="216.50" y1="580.70" x2="216.50" y2="583.70" stroke="#262626" stroke-width="1.4"/>
<line x1="239.50" y1="580.70" x2="239.50" y2="583.70" stroke="#262626" stroke-width="1.4"/>
<line x1="77.80" y1="570.60" x2="77.80" y2="567.00" stroke="#262626" stroke-width="1.1"/>
<line x1="74.60" y1="567.00" x2="81.00" y2="567.00" stroke="#262626" stroke-width="1.1"/>
<line x1="100.90" y1="566.70" x2="100.90" y2="563.00" stroke="#262626" stroke-width="1.1"/>
<line x1="97.70" y1="563.00" x2="104.10" y2="563.00" stroke="#262626" stroke-width="1.1"/>
<line x1="123.80" y1="564.80" x2="123.80" y2="561.50" stroke="#262626" stroke-width="1.1"/>
<line x1="120.60" y1="561.50" x2="127.00" y2="561.50" stroke="#262626" stroke-width="1.1"/>
<line x1="146.60" y1="558.70" x2="146.60" y2="556.00" stroke="#262626" stroke-width="1.1"/>
<line x1="143.40" y1="556.00" x2="149.80" y2="556.00" stroke="#262626" stroke-width="1.1"/>
<line x1="170.50" y1="526.30" x2="170.50" y2="522.00" stroke="#262626" stroke-width="1.1"/>
<line x1="167.30" y1="522.00" x2="173.70" y2="522.00" stroke="#262626" stroke-width="1.1"/>
<line x1="193.50" y1="516.70" x2="193.50" y2="514.80" stroke="#262626" stroke-width="1.1"/>
<line x1="190.30" y1="514.80" x2="196.70" y2="514.80" stroke="#262626" stroke-width="1.1"/>
<line x1="216.50" y1="511.90" x2="216.50" y2="508.50" stroke="#262626" stroke-width="1.1"/>
<line x1="213.30" y1="508.50" x2="219.70" y2="508.50" stroke="#262626" stroke-width="1.1"/>
<line x1="239.50" y1="508.10" x2="239.50" y2="501.30" stroke="#262626" stroke-width="1.1"/>
<line x1="236.30" y1="501.30" x2="242.70" y2="501.30" stroke="#262626" stroke-width="1.1"/>
<circle cx="77.70" cy="561.00" r="2.15" fill="#5d616b" stroke="#141416" stroke-width="1.0"/>
<circle cx="74.80" cy="564.80" r="2.15" fill="#5d616b" stroke="#141416" stroke-width="1.0"/>
<circle cx="80.20" cy="565.40" r="2.15" fill="#5d616b" stroke="#141416" stroke-width="1.0"/>
<circle cx="72.50" cy="568.70" r="2.15" fill="#5d616b" stroke="#141416" stroke-width="1.0"/>
<circle cx="77.70" cy="568.70" r="2.15" fill="#5d616b" stroke="#141416" stroke-width="1.0"/>
<circle cx="83.10" cy="569.20" r="2.15" fill="#5d616b" stroke="#141416" stroke-width="1.0"/>
<circle cx="95.20" cy="560.40" r="2.1" fill="#9a1a38" stroke="#3a0712" stroke-width="0.9"/>
<circle cx="99.00" cy="563.50" r="2.1" fill="#9a1a38" stroke="#3a0712" stroke-width="0.9"/>
<circle cx="106.20" cy="564.20" r="2.1" fill="#9a1a38" stroke="#3a0712" stroke-width="0.9"/>
<circle cx="95.20" cy="567.70" r="2.1" fill="#9a1a38" stroke="#3a0712" stroke-width="0.9"/>
<circle cx="102.70" cy="567.70" r="2.1" fill="#9a1a38" stroke="#3a0712" stroke-width="0.9"/>
<circle cx="123.80" cy="553.70" r="2.15" fill="#5d616b" stroke="#141416" stroke-width="1.0"/>
<circle cx="123.80" cy="558.50" r="2.15" fill="#5d616b" stroke="#141416" stroke-width="1.0"/>
<circle cx="118.10" cy="562.90" r="2.15" fill="#5d616b" stroke="#141416" stroke-width="1.0"/>
<circle cx="121.50" cy="562.50" r="2.15" fill="#5d616b" stroke="#141416" stroke-width="1.0"/>
<circle cx="126.00" cy="562.50" r="2.15" fill="#5d616b" stroke="#141416" stroke-width="1.0"/>
<circle cx="129.60" cy="562.90" r="2.15" fill="#5d616b" stroke="#141416" stroke-width="1.0"/>
<circle cx="140.80" cy="555.80" r="2.1" fill="#9a1a38" stroke="#3a0712" stroke-width="0.9"/>
<circle cx="144.60" cy="556.50" r="2.1" fill="#9a1a38" stroke="#3a0712" stroke-width="0.9"/>
<circle cx="148.80" cy="555.20" r="2.1" fill="#9a1a38" stroke="#3a0712" stroke-width="0.9"/>
<circle cx="152.70" cy="554.20" r="2.1" fill="#9a1a38" stroke="#3a0712" stroke-width="0.9"/>
<circle cx="148.00" cy="561.90" r="2.1" fill="#9a1a38" stroke="#3a0712" stroke-width="0.9"/>
<circle cx="144.60" cy="565.20" r="2.1" fill="#9a1a38" stroke="#3a0712" stroke-width="0.9"/>
<circle cx="168.10" cy="519.60" r="2.15" fill="#5d616b" stroke="#141416" stroke-width="1.0"/>
<circle cx="172.70" cy="518.10" r="2.15" fill="#5d616b" stroke="#141416" stroke-width="1.0"/>
<circle cx="175.80" cy="520.60" r="2.15" fill="#5d616b" stroke="#141416" stroke-width="1.0"/>
<circle cx="165.00" cy="524.00" r="2.15" fill="#5d616b" stroke="#141416" stroke-width="1.0"/>
<circle cx="170.00" cy="524.40" r="2.15" fill="#5d616b" stroke="#141416" stroke-width="1.0"/>
<circle cx="172.70" cy="524.80" r="2.15" fill="#5d616b" stroke="#141416" stroke-width="1.0"/>
<circle cx="175.80" cy="527.70" r="2.15" fill="#5d616b" stroke="#141416" stroke-width="1.0"/>
<circle cx="170.40" cy="532.10" r="2.15" fill="#5d616b" stroke="#141416" stroke-width="1.0"/>
<circle cx="188.10" cy="511.00" r="2.1" fill="#9a1a38" stroke="#3a0712" stroke-width="0.9"/>
<circle cx="193.50" cy="511.00" r="2.1" fill="#9a1a38" stroke="#3a0712" stroke-width="0.9"/>
<circle cx="199.20" cy="511.00" r="2.1" fill="#9a1a38" stroke="#3a0712" stroke-width="0.9"/>
<circle cx="188.10" cy="515.40" r="2.1" fill="#9a1a38" stroke="#3a0712" stroke-width="0.9"/>
<circle cx="199.20" cy="517.70" r="2.1" fill="#9a1a38" stroke="#3a0712" stroke-width="0.9"/>
<circle cx="193.50" cy="520.00" r="2.1" fill="#9a1a38" stroke="#3a0712" stroke-width="0.9"/>
<circle cx="193.50" cy="531.50" r="2.1" fill="#9a1a38" stroke="#3a0712" stroke-width="0.9"/>
<circle cx="211.20" cy="499.40" r="2.15" fill="#5d616b" stroke="#141416" stroke-width="1.0"/>
<circle cx="216.50" cy="503.30" r="2.15" fill="#5d616b" stroke="#141416" stroke-width="1.0"/>
<circle cx="211.20" cy="510.00" r="2.15" fill="#5d616b" stroke="#141416" stroke-width="1.0"/>
<circle cx="221.90" cy="508.10" r="2.15" fill="#5d616b" stroke="#141416" stroke-width="1.0"/>
<circle cx="216.50" cy="512.30" r="2.15" fill="#5d616b" stroke="#141416" stroke-width="1.0"/>
<circle cx="213.70" cy="517.30" r="2.15" fill="#5d616b" stroke="#141416" stroke-width="1.0"/>
<circle cx="219.40" cy="519.20" r="2.15" fill="#5d616b" stroke="#141416" stroke-width="1.0"/>
<circle cx="216.50" cy="524.00" r="2.15" fill="#5d616b" stroke="#141416" stroke-width="1.0"/>
<circle cx="239.00" cy="486.50" r="2.1" fill="#9a1a38" stroke="#3a0712" stroke-width="0.9"/>
<circle cx="239.00" cy="494.00" r="2.1" fill="#9a1a38" stroke="#3a0712" stroke-width="0.9"/>
<circle cx="233.80" cy="507.10" r="2.1" fill="#9a1a38" stroke="#3a0712" stroke-width="0.9"/>
<circle cx="239.00" cy="508.10" r="2.1" fill="#9a1a38" stroke="#3a0712" stroke-width="0.9"/>
<circle cx="244.40" cy="507.70" r="2.1" fill="#9a1a38" stroke="#3a0712" stroke-width="0.9"/>
<circle cx="236.70" cy="511.00" r="2.1" fill="#9a1a38" stroke="#3a0712" stroke-width="0.9"/>
<circle cx="242.50" cy="511.00" r="2.1" fill="#9a1a38" stroke="#3a0712" stroke-width="0.9"/>
<circle cx="236.70" cy="514.80" r="2.1" fill="#9a1a38" stroke="#3a0712" stroke-width="0.9"/>
<line x1="75.50" y1="592.40" x2="80.10" y2="592.40" stroke="#333" stroke-width="0.95"/>
<line x1="98.95" y1="592.00" x2="102.85" y2="592.00" stroke="#333" stroke-width="0.95"/>
<line x1="100.90" y1="590.05" x2="100.90" y2="593.95" stroke="#333" stroke-width="0.95"/>
<line x1="121.50" y1="592.40" x2="126.10" y2="592.40" stroke="#333" stroke-width="0.95"/>
<line x1="144.65" y1="592.00" x2="148.55" y2="592.00" stroke="#333" stroke-width="0.95"/>
<line x1="146.60" y1="590.05" x2="146.60" y2="593.95" stroke="#333" stroke-width="0.95"/>
<line x1="168.20" y1="592.40" x2="172.80" y2="592.40" stroke="#333" stroke-width="0.95"/>
<line x1="191.55" y1="592.00" x2="195.45" y2="592.00" stroke="#333" stroke-width="0.95"/>
<line x1="193.50" y1="590.05" x2="193.50" y2="593.95" stroke="#333" stroke-width="0.95"/>
<line x1="214.20" y1="592.40" x2="218.80" y2="592.40" stroke="#333" stroke-width="0.95"/>
<line x1="237.55" y1="592.00" x2="241.45" y2="592.00" stroke="#333" stroke-width="0.95"/>
<line x1="239.50" y1="590.05" x2="239.50" y2="593.95" stroke="#333" stroke-width="0.95"/>
<line x1="70.80" y1="599.40" x2="106.10" y2="599.40" stroke="#262626" stroke-width="1.1"/>
<text x="88.45" y="609.70" font-size="8.7" text-anchor="middle" fill="#333" style="" textLength="18.1" lengthAdjust="spacingAndGlyphs">Male</text>
<line x1="116.80" y1="599.40" x2="151.80" y2="599.40" stroke="#262626" stroke-width="1.1"/>
<text x="134.30" y="609.70" font-size="8.7" text-anchor="middle" fill="#333" style="" textLength="26.9" lengthAdjust="spacingAndGlyphs">Female</text>
<line x1="163.50" y1="599.40" x2="198.70" y2="599.40" stroke="#262626" stroke-width="1.1"/>
<text x="181.10" y="609.70" font-size="8.7" text-anchor="middle" fill="#333" style="" textLength="18.1" lengthAdjust="spacingAndGlyphs">Male</text>
<line x1="209.50" y1="599.40" x2="244.70" y2="599.40" stroke="#262626" stroke-width="1.1"/>
<text x="227.10" y="609.70" font-size="8.7" text-anchor="middle" fill="#333" style="" textLength="26.9" lengthAdjust="spacingAndGlyphs">Female</text>
<line x1="73.50" y1="614.50" x2="150.40" y2="614.50" stroke="#262626" stroke-width="1.1"/>
<line x1="167.50" y1="614.50" x2="246.50" y2="614.50" stroke="#262626" stroke-width="1.1"/>
<text x="111.95" y="624.90" font-size="8.7" text-anchor="middle" fill="#333" style="" textLength="55.5" lengthAdjust="spacingAndGlyphs">Standard chow</text>
<text x="207.00" y="624.90" font-size="8.7" text-anchor="middle" fill="#333" style="" textLength="52" lengthAdjust="spacingAndGlyphs">High-iron diet</text>
<text x="20.10" y="597.10" font-size="8.7" text-anchor="start" fill="#333" style="font-style:italic;" textLength="28.9" lengthAdjust="spacingAndGlyphs">Slc39a8</text>
<text x="51.90" y="593.70" font-size="5.6" text-anchor="start" fill="#333" style="font-style:italic;" textLength="7.2" lengthAdjust="spacingAndGlyphs">fl/fl</text>
<text x="59.30" y="597.10" font-size="8.7" text-anchor="start" fill="#333" style="font-style:italic;">;</text>
<text x="62.10" y="609.30" font-size="8.7" text-anchor="end" fill="#333" style="font-style:italic;" textLength="37" lengthAdjust="spacingAndGlyphs">Stab2-Cre</text>
<line x1="77.30" y1="486.00" x2="170.70" y2="486.00" stroke="#262626" stroke-width="1.1"/>
<text x="124.00" y="483.70" font-size="8.4" text-anchor="middle" fill="#333"><tspan style="font-style:italic">P</tspan> &lt; .0001</text>
<line x1="100.80" y1="472.90" x2="193.80" y2="472.90" stroke="#262626" stroke-width="1.1"/>
<text x="147.30" y="470.60" font-size="8.4" text-anchor="middle" fill="#333"><tspan style="font-style:italic">P</tspan> &lt; .0001</text>
<line x1="124.20" y1="459.00" x2="217.30" y2="459.00" stroke="#262626" stroke-width="1.1"/>
<text x="170.75" y="456.70" font-size="8.4" text-anchor="middle" fill="#333"><tspan style="font-style:italic">P</tspan> &lt; .0001</text>
<line x1="147.90" y1="444.70" x2="242.00" y2="444.70" stroke="#262626" stroke-width="1.1"/>
<text x="194.95" y="442.40" font-size="8.4" text-anchor="middle" fill="#333"><tspan style="font-style:italic">P</tspan> &lt; .0001</text>
<line x1="173.30" y1="501.30" x2="195.40" y2="501.30" stroke="#262626" stroke-width="1.1"/>
<text x="184.40" y="499.00" font-size="8.4" text-anchor="middle" fill="#333"><tspan style="font-style:italic">P</tspan> = .0254</text>
<line x1="218.10" y1="480.60" x2="239.30" y2="480.60" stroke="#262626" stroke-width="1.1"/>
<text x="228.70" y="478.30" font-size="8.4" text-anchor="middle" fill="#333"><tspan style="font-style:italic">P</tspan> = .0233</text>
<text x="0" y="0" font-size="9.3" text-anchor="middle" fill="#333" transform="translate(29.00,527.60) rotate(-90)" dominant-baseline="central" textLength="78" lengthAdjust="spacingAndGlyphs"><tspan style="font-style:normal">Liver iron (μg/g tissue)</tspan></text>
<line x1="318.70" y1="470.51" x2="318.70" y2="581.40" stroke="#262626" stroke-width="1.4"/>
<line x1="315.70" y1="580.80" x2="318.70" y2="580.80" stroke="#262626" stroke-width="1.4"/>
<text x="313.00" y="583.90" font-size="8.8" text-anchor="end" fill="#333" style="">0</text>
<line x1="315.70" y1="562.83" x2="318.70" y2="562.83" stroke="#262626" stroke-width="1.4"/>
<text x="313.00" y="565.93" font-size="8.8" text-anchor="end" fill="#333" style="">50</text>
<line x1="315.70" y1="544.87" x2="318.70" y2="544.87" stroke="#262626" stroke-width="1.4"/>
<text x="313.00" y="547.97" font-size="8.8" text-anchor="end" fill="#333" style="">100</text>
<line x1="315.70" y1="526.90" x2="318.70" y2="526.90" stroke="#262626" stroke-width="1.4"/>
<text x="313.00" y="530.00" font-size="8.8" text-anchor="end" fill="#333" style="">150</text>
<line x1="315.70" y1="508.94" x2="318.70" y2="508.94" stroke="#262626" stroke-width="1.4"/>
<text x="313.00" y="512.04" font-size="8.8" text-anchor="end" fill="#333" style="">200</text>
<line x1="315.70" y1="490.97" x2="318.70" y2="490.97" stroke="#262626" stroke-width="1.4"/>
<text x="313.00" y="494.07" font-size="8.8" text-anchor="end" fill="#333" style="">250</text>
<line x1="315.70" y1="473.01" x2="318.70" y2="473.01" stroke="#262626" stroke-width="1.4"/>
<text x="313.00" y="476.11" font-size="8.8" text-anchor="end" fill="#333" style="">300</text>
<line x1="318.70" y1="580.80" x2="512.60" y2="580.80" stroke="#262626" stroke-width="1.4"/>
<rect x="327.40" y="544.00" width="14.00" height="36.80" fill="#9c9fab"/>
<rect x="350.50" y="547.90" width="14.00" height="32.90" fill="#eb8e80"/>
<rect x="373.60" y="546.00" width="14.00" height="34.80" fill="#9c9fab"/>
<rect x="396.70" y="548.80" width="14.00" height="32.00" fill="#eb8e80"/>
<rect x="420.80" y="503.30" width="14.00" height="77.50" fill="#9c9fab"/>
<rect x="443.90" y="501.30" width="14.00" height="79.50" fill="#eb8e80"/>
<rect x="467.00" y="494.20" width="14.00" height="86.60" fill="#9c9fab"/>
<rect x="490.00" y="498.30" width="14.00" height="82.50" fill="#eb8e80"/>
<line x1="334.40" y1="580.80" x2="334.40" y2="583.80" stroke="#262626" stroke-width="1.4"/>
<line x1="357.50" y1="580.80" x2="357.50" y2="583.80" stroke="#262626" stroke-width="1.4"/>
<line x1="380.60" y1="580.80" x2="380.60" y2="583.80" stroke="#262626" stroke-width="1.4"/>
<line x1="403.70" y1="580.80" x2="403.70" y2="583.80" stroke="#262626" stroke-width="1.4"/>
<line x1="427.80" y1="580.80" x2="427.80" y2="583.80" stroke="#262626" stroke-width="1.4"/>
<line x1="450.90" y1="580.80" x2="450.90" y2="583.80" stroke="#262626" stroke-width="1.4"/>
<line x1="474.00" y1="580.80" x2="474.00" y2="583.80" stroke="#262626" stroke-width="1.4"/>
<line x1="497.00" y1="580.80" x2="497.00" y2="583.80" stroke="#262626" stroke-width="1.4"/>
<line x1="334.40" y1="544.00" x2="334.40" y2="540.00" stroke="#262626" stroke-width="1.1"/>
<line x1="331.20" y1="540.00" x2="337.60" y2="540.00" stroke="#262626" stroke-width="1.1"/>
<line x1="357.50" y1="547.90" x2="357.50" y2="545.00" stroke="#262626" stroke-width="1.1"/>
<line x1="354.30" y1="545.00" x2="360.70" y2="545.00" stroke="#262626" stroke-width="1.1"/>
<line x1="380.60" y1="546.00" x2="380.60" y2="542.00" stroke="#262626" stroke-width="1.1"/>
<line x1="377.40" y1="542.00" x2="383.80" y2="542.00" stroke="#262626" stroke-width="1.1"/>
<line x1="403.70" y1="548.80" x2="403.70" y2="545.50" stroke="#262626" stroke-width="1.1"/>
<line x1="400.50" y1="545.50" x2="406.90" y2="545.50" stroke="#262626" stroke-width="1.1"/>
<line x1="427.80" y1="503.30" x2="427.80" y2="499.00" stroke="#262626" stroke-width="1.1"/>
<line x1="424.60" y1="499.00" x2="431.00" y2="499.00" stroke="#262626" stroke-width="1.1"/>
<line x1="450.90" y1="501.30" x2="450.90" y2="497.50" stroke="#262626" stroke-width="1.1"/>
<line x1="447.70" y1="497.50" x2="454.10" y2="497.50" stroke="#262626" stroke-width="1.1"/>
<line x1="474.00" y1="494.20" x2="474.00" y2="491.00" stroke="#262626" stroke-width="1.1"/>
<line x1="470.80" y1="491.00" x2="477.20" y2="491.00" stroke="#262626" stroke-width="1.1"/>
<line x1="497.00" y1="498.30" x2="497.00" y2="495.50" stroke="#262626" stroke-width="1.1"/>
<line x1="493.80" y1="495.50" x2="500.20" y2="495.50" stroke="#262626" stroke-width="1.1"/>
<circle cx="328.70" cy="539.60" r="2.15" fill="#5d616b" stroke="#141416" stroke-width="1.0"/>
<circle cx="332.50" cy="537.70" r="2.15" fill="#5d616b" stroke="#141416" stroke-width="1.0"/>
<circle cx="336.30" cy="541.50" r="2.15" fill="#5d616b" stroke="#141416" stroke-width="1.0"/>
<circle cx="340.20" cy="538.80" r="2.15" fill="#5d616b" stroke="#141416" stroke-width="1.0"/>
<circle cx="332.50" cy="551.20" r="2.15" fill="#5d616b" stroke="#141416" stroke-width="1.0"/>
<circle cx="336.30" cy="549.80" r="2.15" fill="#5d616b" stroke="#141416" stroke-width="1.0"/>
<circle cx="352.10" cy="540.20" r="2.1" fill="#9a1a38" stroke="#3a0712" stroke-width="0.9"/>
<circle cx="363.30" cy="544.00" r="2.1" fill="#9a1a38" stroke="#3a0712" stroke-width="0.9"/>
<circle cx="352.10" cy="548.80" r="2.1" fill="#9a1a38" stroke="#3a0712" stroke-width="0.9"/>
<circle cx="363.30" cy="548.80" r="2.1" fill="#9a1a38" stroke="#3a0712" stroke-width="0.9"/>
<circle cx="357.50" cy="555.60" r="2.1" fill="#9a1a38" stroke="#3a0712" stroke-width="0.9"/>
<circle cx="380.60" cy="537.30" r="2.15" fill="#5d616b" stroke="#141416" stroke-width="1.0"/>
<circle cx="375.20" cy="541.20" r="2.15" fill="#5d616b" stroke="#141416" stroke-width="1.0"/>
<circle cx="380.60" cy="543.10" r="2.15" fill="#5d616b" stroke="#141416" stroke-width="1.0"/>
<circle cx="380.60" cy="547.90" r="2.15" fill="#5d616b" stroke="#141416" stroke-width="1.0"/>
<circle cx="386.00" cy="548.80" r="2.15" fill="#5d616b" stroke="#141416" stroke-width="1.0"/>
<circle cx="375.20" cy="551.20" r="2.15" fill="#5d616b" stroke="#141416" stroke-width="1.0"/>
<circle cx="405.60" cy="537.70" r="2.1" fill="#9a1a38" stroke="#3a0712" stroke-width="0.9"/>
<circle cx="401.70" cy="541.50" r="2.1" fill="#9a1a38" stroke="#3a0712" stroke-width="0.9"/>
<circle cx="401.70" cy="546.50" r="2.1" fill="#9a1a38" stroke="#3a0712" stroke-width="0.9"/>
<circle cx="405.20" cy="547.90" r="2.1" fill="#9a1a38" stroke="#3a0712" stroke-width="0.9"/>
<circle cx="408.80" cy="547.90" r="2.1" fill="#9a1a38" stroke="#3a0712" stroke-width="0.9"/>
<circle cx="397.90" cy="549.80" r="2.1" fill="#9a1a38" stroke="#3a0712" stroke-width="0.9"/>
<circle cx="427.80" cy="490.80" r="2.15" fill="#5d616b" stroke="#141416" stroke-width="1.0"/>
<circle cx="422.50" cy="494.20" r="2.15" fill="#5d616b" stroke="#141416" stroke-width="1.0"/>
<circle cx="427.80" cy="497.90" r="2.15" fill="#5d616b" stroke="#141416" stroke-width="1.0"/>
<circle cx="422.50" cy="499.90" r="2.15" fill="#5d616b" stroke="#141416" stroke-width="1.0"/>
<circle cx="433.20" cy="500.30" r="2.15" fill="#5d616b" stroke="#141416" stroke-width="1.0"/>
<circle cx="427.80" cy="511.00" r="2.15" fill="#5d616b" stroke="#141416" stroke-width="1.0"/>
<circle cx="433.20" cy="512.40" r="2.15" fill="#5d616b" stroke="#141416" stroke-width="1.0"/>
<circle cx="422.50" cy="516.00" r="2.15" fill="#5d616b" stroke="#141416" stroke-width="1.0"/>
<circle cx="445.30" cy="491.20" r="2.1" fill="#9a1a38" stroke="#3a0712" stroke-width="0.9"/>
<circle cx="456.40" cy="492.20" r="2.1" fill="#9a1a38" stroke="#3a0712" stroke-width="0.9"/>
<circle cx="450.80" cy="497.90" r="2.1" fill="#9a1a38" stroke="#3a0712" stroke-width="0.9"/>
<circle cx="445.30" cy="504.70" r="2.1" fill="#9a1a38" stroke="#3a0712" stroke-width="0.9"/>
<circle cx="456.40" cy="502.70" r="2.1" fill="#9a1a38" stroke="#3a0712" stroke-width="0.9"/>
<circle cx="456.40" cy="508.40" r="2.1" fill="#9a1a38" stroke="#3a0712" stroke-width="0.9"/>
<circle cx="445.30" cy="511.00" r="2.1" fill="#9a1a38" stroke="#3a0712" stroke-width="0.9"/>
<circle cx="471.60" cy="484.10" r="2.15" fill="#5d616b" stroke="#141416" stroke-width="1.0"/>
<circle cx="475.60" cy="488.20" r="2.15" fill="#5d616b" stroke="#141416" stroke-width="1.0"/>
<circle cx="471.00" cy="491.80" r="2.15" fill="#5d616b" stroke="#141416" stroke-width="1.0"/>
<circle cx="468.60" cy="494.20" r="2.15" fill="#5d616b" stroke="#141416" stroke-width="1.0"/>
<circle cx="475.00" cy="495.20" r="2.15" fill="#5d616b" stroke="#141416" stroke-width="1.0"/>
<circle cx="479.10" cy="493.80" r="2.15" fill="#5d616b" stroke="#141416" stroke-width="1.0"/>
<circle cx="471.60" cy="503.90" r="2.15" fill="#5d616b" stroke="#141416" stroke-width="1.0"/>
<circle cx="475.60" cy="503.30" r="2.15" fill="#5d616b" stroke="#141416" stroke-width="1.0"/>
<circle cx="491.80" cy="495.60" r="2.1" fill="#9a1a38" stroke="#3a0712" stroke-width="0.9"/>
<circle cx="495.80" cy="496.90" r="2.1" fill="#9a1a38" stroke="#3a0712" stroke-width="0.9"/>
<circle cx="500.50" cy="492.20" r="2.1" fill="#9a1a38" stroke="#3a0712" stroke-width="0.9"/>
<circle cx="502.50" cy="495.80" r="2.1" fill="#9a1a38" stroke="#3a0712" stroke-width="0.9"/>
<circle cx="499.90" cy="498.30" r="2.1" fill="#9a1a38" stroke="#3a0712" stroke-width="0.9"/>
<circle cx="496.80" cy="505.30" r="2.1" fill="#9a1a38" stroke="#3a0712" stroke-width="0.9"/>
<line x1="332.10" y1="592.50" x2="336.70" y2="592.50" stroke="#333" stroke-width="0.95"/>
<line x1="355.55" y1="592.10" x2="359.45" y2="592.10" stroke="#333" stroke-width="0.95"/>
<line x1="357.50" y1="590.15" x2="357.50" y2="594.05" stroke="#333" stroke-width="0.95"/>
<line x1="378.30" y1="592.50" x2="382.90" y2="592.50" stroke="#333" stroke-width="0.95"/>
<line x1="401.75" y1="592.10" x2="405.65" y2="592.10" stroke="#333" stroke-width="0.95"/>
<line x1="403.70" y1="590.15" x2="403.70" y2="594.05" stroke="#333" stroke-width="0.95"/>
<line x1="425.50" y1="592.50" x2="430.10" y2="592.50" stroke="#333" stroke-width="0.95"/>
<line x1="448.95" y1="592.10" x2="452.85" y2="592.10" stroke="#333" stroke-width="0.95"/>
<line x1="450.90" y1="590.15" x2="450.90" y2="594.05" stroke="#333" stroke-width="0.95"/>
<line x1="471.70" y1="592.50" x2="476.30" y2="592.50" stroke="#333" stroke-width="0.95"/>
<line x1="495.05" y1="592.10" x2="498.95" y2="592.10" stroke="#333" stroke-width="0.95"/>
<line x1="497.00" y1="590.15" x2="497.00" y2="594.05" stroke="#333" stroke-width="0.95"/>
<line x1="327.40" y1="599.50" x2="362.70" y2="599.50" stroke="#262626" stroke-width="1.1"/>
<text x="345.05" y="609.80" font-size="8.7" text-anchor="middle" fill="#333" style="" textLength="18.1" lengthAdjust="spacingAndGlyphs">Male</text>
<line x1="373.60" y1="599.50" x2="408.90" y2="599.50" stroke="#262626" stroke-width="1.1"/>
<text x="391.25" y="609.80" font-size="8.7" text-anchor="middle" fill="#333" style="" textLength="26.9" lengthAdjust="spacingAndGlyphs">Female</text>
<line x1="420.80" y1="599.50" x2="456.10" y2="599.50" stroke="#262626" stroke-width="1.1"/>
<text x="438.45" y="609.80" font-size="8.7" text-anchor="middle" fill="#333" style="" textLength="18.1" lengthAdjust="spacingAndGlyphs">Male</text>
<line x1="467.00" y1="599.50" x2="502.20" y2="599.50" stroke="#262626" stroke-width="1.1"/>
<text x="484.60" y="609.80" font-size="8.7" text-anchor="middle" fill="#333" style="" textLength="26.9" lengthAdjust="spacingAndGlyphs">Female</text>
<line x1="330.80" y1="614.60" x2="410.40" y2="614.60" stroke="#262626" stroke-width="1.1"/>
<line x1="423.00" y1="614.60" x2="501.90" y2="614.60" stroke="#262626" stroke-width="1.1"/>
<text x="370.60" y="625.00" font-size="8.7" text-anchor="middle" fill="#333" style="" textLength="55.5" lengthAdjust="spacingAndGlyphs">Standard chow</text>
<text x="462.45" y="625.00" font-size="8.7" text-anchor="middle" fill="#333" style="" textLength="52" lengthAdjust="spacingAndGlyphs">High-iron diet</text>
<line x1="335.70" y1="485.60" x2="428.90" y2="485.60" stroke="#262626" stroke-width="1.1"/>
<text x="382.30" y="483.30" font-size="8.4" text-anchor="middle" fill="#333"><tspan style="font-style:italic">P</tspan> &lt; .0001</text>
<line x1="359.10" y1="472.60" x2="452.30" y2="472.60" stroke="#262626" stroke-width="1.1"/>
<text x="405.70" y="470.30" font-size="8.4" text-anchor="middle" fill="#333"><tspan style="font-style:italic">P</tspan> &lt; .0001</text>
<line x1="382.10" y1="458.70" x2="475.30" y2="458.70" stroke="#262626" stroke-width="1.1"/>
<text x="428.70" y="456.40" font-size="8.4" text-anchor="middle" fill="#333"><tspan style="font-style:italic">P</tspan> &lt; .0001</text>
<line x1="406.60" y1="444.00" x2="500.10" y2="444.00" stroke="#262626" stroke-width="1.1"/>
<text x="453.35" y="441.70" font-size="8.4" text-anchor="middle" fill="#333"><tspan style="font-style:italic">P</tspan> &lt; .0001</text>
<text x="0" y="0" font-size="9.3" text-anchor="middle" fill="#333" transform="translate(290.80,525.20) rotate(-90)" dominant-baseline="central" textLength="67" lengthAdjust="spacingAndGlyphs"><tspan style="font-style:normal">Serum iron (μg/dL)</tspan></text>
</svg>
</body></html>
